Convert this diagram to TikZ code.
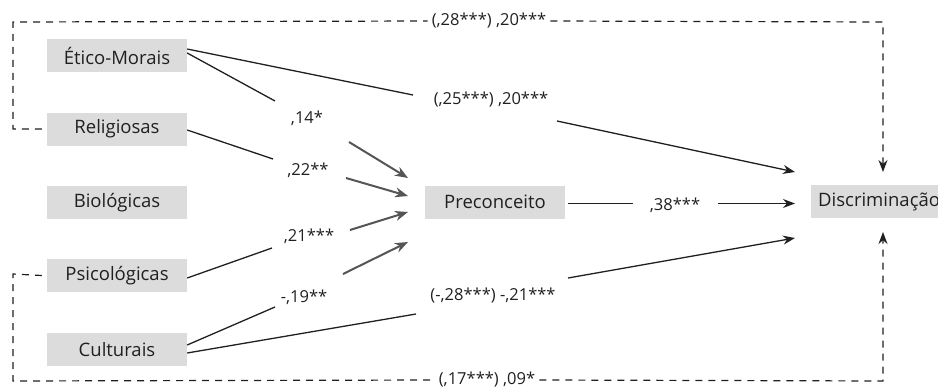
\documentclass[tikz,border=0pt]{standalone}
\usepackage{fontspec}
\setmainfont{Open Sans}
\usetikzlibrary{arrows.meta}
\definecolor{boxgray}{HTML}{DCDCDC}
\definecolor{ink}{HTML}{231F20}
\definecolor{arrgray}{HTML}{555555}
\begin{document}
\begin{tikzpicture}[x=1pt,y=-1pt,
 box/.style={fill=boxgray, minimum width=140pt, minimum height=33pt, inner sep=0pt, text=ink, font=\fontsize{18.5}{22}\selectfont},
 lab/.style={text=ink, font=\fontsize{16.5}{20}\selectfont, inner sep=2pt},
 solidline/.style={draw=ink, line width=1.3pt},
 grayarrow/.style={draw=arrgray, line width=2pt, -{Stealth[length=13pt,width=10pt]}},
 blackarrow/.style={draw=ink, line width=1.3pt, -{Stealth[length=12pt,width=9pt]}},
 dashline/.style={draw=ink, line width=1.2pt, dash pattern=on 7pt off 6pt},
 dasharrow/.style={dashline, -{Stealth[length=12pt,width=9pt]}}
]
\useasboundingbox (0,0) rectangle (938,391);

% boxes
\node[box] (etico) at (117,55.5) {Ético-Morais};
\node[box] (relig) at (117,129) {Religiosas};
\node[box] (biol) at (117,202.5) {Biológicas};
\node[box] (psic) at (117,275.5) {Psicológicas};
\node[box] (cult) at (117,349.5) {Culturais};
\node[box] (prec) at (495,202) {Preconceito};
\node[box, minimum width=0pt, inner xsep=7pt, anchor=west] (disc) at (811,201.5) {Discriminação};

% labels
\node[lab] (l14) at (307,118) {,14*};
\node[lab] (l22) at (308,170) {,22**};
\node[lab] (l21) at (309,236) {,21***};
\node[lab] (l19) at (304,297) {-,19**};
\node[lab] (l25) at (491,100) {(,25***) ,20***};
\node[lab] (l28n) at (493,296) {(-,28***) -,21***};
\node[lab] (l38) at (675,205) {,38***};
\node[lab, inner xsep=4pt] (ltop) at (489,21) {(,28***) ,20***};
\node[lab, inner xsep=4pt] (lbot) at (487,380) {(,17***) ,09*};

% coordinates
\coordinate (e1a) at (275,101); \coordinate (e1b) at (349,142); \coordinate (P1) at (408,178);
\coordinate (r1a) at (273,159); \coordinate (r1b) at (346,178); \coordinate (P2) at (408,196);
\coordinate (p1a) at (272,248); \coordinate (p1b) at (350,230); \coordinate (P3) at (408,212);
\coordinate (c1a) at (275,307); \coordinate (c1b) at (343,274); \coordinate (P4) at (408,242);
\coordinate (eda) at (413,95); \coordinate (edb) at (557,121); \coordinate (D1) at (795,172);
\coordinate (cda) at (416,314); \coordinate (cdb) at (568,278); \coordinate (D3) at (795,238);
\coordinate (pda) at (568,203.5); \coordinate (pdb) at (633,203.5);
\coordinate (pdc) at (718,203.5); \coordinate (D2) at (795,203.5);
\coordinate (tl) at (13,22); \coordinate (tr) at (883,22); \coordinate (rl) at (13,129);
\coordinate (bl) at (13,381); \coordinate (br) at (883,381); \coordinate (pl) at (13,274);
\coordinate (dt) at (883,172); \coordinate (db) at (883,232);

% into Preconceito
\draw[solidline] ([yshift=2.5pt]etico.east) -- (e1a);
\draw[grayarrow] (e1b) -- (P1);
\draw[solidline] ([yshift=-1pt]relig.east) -- (r1a);
\draw[grayarrow] (r1b) -- (P2);
\draw[solidline] ([yshift=-2.5pt]psic.east) -- (p1a);
\draw[grayarrow] (p1b) -- (P3);
\draw[solidline] ([yshift=4.5pt]cult.east) -- (c1a);
\draw[grayarrow] (c1b) -- (P4);

% into Discriminacao
\draw[solidline] ([yshift=6.5pt]etico.east) -- (eda);
\draw[blackarrow] (edb) -- (D1);
\draw[solidline] ([yshift=-3.5pt]cult.east) -- (cda);
\draw[blackarrow] (cdb) -- (D3);
\draw[solidline] (pda) -- (pdb);
\draw[blackarrow] (pdc) -- (D2);

% dashed covariance paths
\draw[dashline] ([xshift=-5pt]relig.west) -- (rl) -- (tl) -- (ltop.west);
\draw[dasharrow] (ltop.east) -- (tr) -- (dt);
\draw[dashline] ([xshift=-5pt]psic.west) -- (pl) -- (bl) -- (lbot.west);
\draw[dasharrow] (lbot.east) -- (br) -- (db);
\end{tikzpicture}
\end{document}
